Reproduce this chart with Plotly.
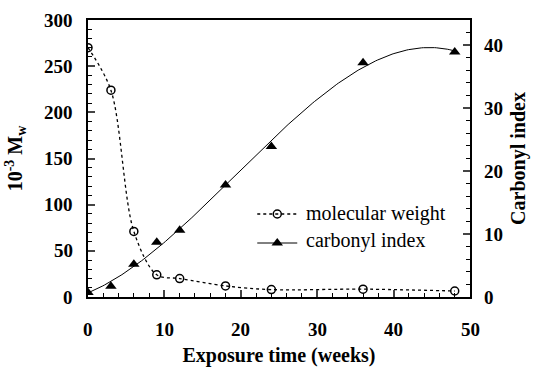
import numpy as np
import plotly.graph_objects as go

weeks = [0, 3, 6, 9, 12, 18, 24, 36, 48]
mol_weight = [270, 224, 71, 24, 20, 12, 8, 8.5, 6.5]
carb_weeks = [0, 3, 6, 9, 12, 18, 24, 36, 48]
carbonyl = [0.7, 1.7, 5.2, 8.7, 10.6, 17.8, 23.9, 37.2, 38.9]

x_ticks = [0, 10, 20, 30, 40, 50]
y_ticks = [0, 50, 100, 150, 200, 250, 300]
y2_ticks = [0, 10, 20, 30, 40]
legend_labels = ["molecular weight", "carbonyl index"]

FONT = "Liberation Serif"

# polynomial trend line fitted to the carbonyl data
coef = np.polyfit(carb_weeks, carbonyl, 3)
xf = np.linspace(0, 48, 200)
yf = np.polyval(coef, xf)

fig = go.Figure()
fig.add_trace(go.Scatter(
    x=weeks, y=mol_weight, mode="lines+markers",
    line=dict(color="black", width=1.3, dash="dot", shape="spline", smoothing=0.9),
    marker=dict(symbol="circle-open", size=8, color="black", line=dict(width=1.5)),
    showlegend=False, yaxis="y"))
fig.add_trace(go.Scatter(
    x=xf, y=yf, mode="lines", line=dict(color="black", width=1),
    showlegend=False, yaxis="y2"))
fig.add_trace(go.Scatter(
    x=carb_weeks, y=carbonyl, mode="markers",
    marker=dict(symbol="triangle-up", size=10, color="black"),
    showlegend=False, yaxis="y2"))
# legend symbol samples (labels drawn as annotations next to them)
fig.add_trace(go.Scatter(
    x=[None], y=[None], mode="lines+markers", name="",
    line=dict(color="black", width=1.3, dash="dot"),
    marker=dict(symbol="circle-open", size=8, color="black", line=dict(width=1.5))))
fig.add_trace(go.Scatter(
    x=[None], y=[None], mode="lines+markers", name="",
    line=dict(color="black", width=1),
    marker=dict(symbol="triangle-up", size=10, color="black")))

tickfont = dict(size=19, family=FONT, weight="bold", color="black")
titlefont = dict(size=20, family=FONT, weight="bold", color="black")
legfont = dict(size=20, family=FONT, color="black")

annotations = []
for v in x_ticks:
    annotations.append(dict(x=v, xref="x", y=0, yref="paper", text=str(v), showarrow=False,
                            xanchor="center", yanchor="middle", yshift=-32, font=tickfont))
for v in y_ticks:
    annotations.append(dict(x=0, xref="paper", y=v, yref="y", text=str(v), showarrow=False,
                            xanchor="right", yanchor="middle", xshift=-13, font=tickfont))
for v in y2_ticks:
    annotations.append(dict(x=1, xref="paper", y=v, yref="y2", text=str(v), showarrow=False,
                            xanchor="left", yanchor="middle", xshift=12, font=tickfont))
for lab, yy in zip(legend_labels, [0.303, 0.205]):
    annotations.append(dict(x=0.566, xref="paper", y=yy, yref="paper", text=lab, showarrow=False,
                            xanchor="left", yanchor="middle", font=legfont))

fig.update_layout(
    width=536, height=376,
    margin=dict(l=88, r=66, t=20, b=79),
    plot_bgcolor="white", paper_bgcolor="white",
    xaxis=dict(
        range=[0, 50], tickvals=x_ticks, ticks="inside", ticklen=7, tickwidth=1.5,
        showticklabels=False,
        showline=True, linewidth=2, linecolor="black", mirror=True, showgrid=False,
        zeroline=False,
        minor=dict(dtick=2, ticks="inside", ticklen=4, tickcolor="black", tickwidth=1),
        title=dict(text="Exposure time (weeks)", font=titlefont, standoff=50)),
    yaxis=dict(
        range=[0, 300], tickvals=y_ticks, ticks="inside", ticklen=7, tickwidth=1.5,
        showticklabels=False,
        showline=True, linewidth=2, linecolor="black", showgrid=False, zeroline=False,
        minor=dict(dtick=10, ticks="inside", ticklen=4, tickcolor="black", tickwidth=1),
        title=dict(text="10<sup>-3</sup> M<sub>w</sub>", font=titlefont, standoff=58)),
    yaxis2=dict(
        range=[0, 44], tickvals=y2_ticks, ticks="inside", ticklen=7, tickwidth=1.5,
        overlaying="y", side="right", showticklabels=False,
        showline=True, linewidth=2, linecolor="black", showgrid=False, zeroline=False,
        minor=dict(dtick=2, ticks="inside", ticklen=4, tickcolor="black", tickwidth=1),
        title=dict(text="Carbonyl index", font=titlefont, standoff=40)),
    legend=dict(x=0.43, y=0.37, xanchor="left", yanchor="top",
                bgcolor="rgba(0,0,0,0)", font=legfont,
                itemwidth=40, tracegroupgap=4),
    annotations=annotations,
)

fig.write_html("out.html")
